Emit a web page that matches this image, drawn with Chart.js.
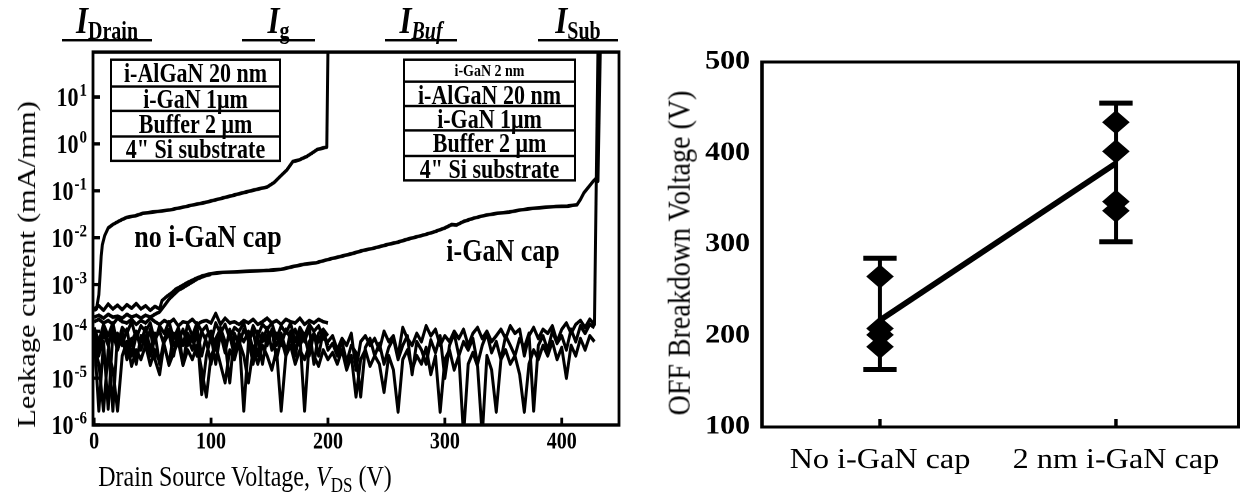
<!DOCTYPE html>
<html lang="en">
<head>
<meta charset="UTF-8">
<title>i-GaN cap: leakage and OFF breakdown</title>
<style>
  body { margin:0; width:1240px; height:496px; overflow:hidden; background:#fff; color:#000; font-family:"Liberation Serif", serif; }
  .panel { position:absolute; top:0; }
  #leftPanel { left:0; width:640px; height:407px; transform:scaleY(1.2187); transform-origin:0 0; }
  #rightPanel { left:640px; width:540px; height:496px; transform:scaleX(1.15); transform-origin:0 0; }
  canvas { position:absolute; left:0; top:0; }

  .tag { position:absolute; top:0; height:30px; padding-top:2px; border-bottom:2.5px solid #000;
         text-align:center; font:bold italic 31px "Liberation Serif"; line-height:30px; white-space:nowrap; }
  .tag span { font-size:20px; position:relative; top:5px; }
  .tag span.up { font-style:normal; }

  .stack { position:absolute; top:47.6px; border:2.5px solid #000; box-sizing:border-box; background:#fff;
           font:bold 22px "Liberation Serif"; text-align:center; }
  .stack div { box-sizing:border-box; height:20.4px; line-height:19px; border-top:2px solid #000; white-space:nowrap; }
  .stack div:first-child { border-top:none; }
  .stack div.thin { height:16px; line-height:15px; font-size:14px; }

  .note { position:absolute; transform:translate(-50%,-50%); font:bold 26px "Liberation Serif"; white-space:nowrap; }
  .axt { position:absolute; transform:translate(-50%,-50%); font:24px "Liberation Serif"; white-space:nowrap; }
  .axt.rot { transform:translate(-50%,-50%) rotate(-90deg); }
  .axt .sub { font-size:17px; position:relative; top:5px; }
</style>
</head>
<body>

<div id="leftPanel" class="panel">
  <canvas id="leakChart" width="640" height="407"></canvas>

  <div class="tag" style="left:62px;width:90px">I<span class="up">Drain</span></div>
  <div class="tag" style="left:242px;width:73px">I<span class="up">g</span></div>
  <div class="tag" style="left:385px;width:72px">I<span>Buf</span></div>
  <div class="tag" style="left:538px;width:80px">I<span class="up">Sub</span></div>

  <div class="stack" style="left:110px;width:171px">
    <div>i-AlGaN 20 nm</div>
    <div>i-GaN 1μm</div>
    <div>Buffer 2 μm</div>
    <div>4" Si substrate</div>
  </div>
  <div class="stack" style="left:403px;width:173px">
    <div class="thin">i-GaN 2 nm</div>
    <div>i-AlGaN 20 nm</div>
    <div>i-GaN 1μm</div>
    <div>Buffer 2 μm</div>
    <div>4" Si substrate</div>
  </div>

  <div class="note" style="left:208px;top:195.3px">no i-GaN cap</div>
  <div class="note" style="left:503px;top:206px">i-GaN cap</div>

  <div class="axt" style="left:245px;top:391.4px">Drain Source Voltage, <i>V</i><span class="sub">DS</span> (V)</div>
  <div class="axt rot" style="left:27px;top:217.4px;font-size:25px">Leakage current (mA/mm)</div>
</div>

<div id="rightPanel" class="panel">
  <canvas id="bvChart" width="540" height="496"></canvas>
  <div class="axt rot" style="left:33.9px;top:253px;font-size:28px">OFF Breakdown Voltage (V)</div>
</div>

<script src="https://cdn.jsdelivr.net/npm/chart.js"></script>
<script>
  // ---- leakage sweep (mA/mm vs V) ----
  const vdsTicks = [0, 100, 200, 300, 400];
  const leakTicks = [1e-6, 1e-5, 1e-4, 1e-3, 1e-2, 1e-1, 1e0, 1e1];

  // drain current, sample without cap (breaks down near 200 V)
  const noCapDrainV = [0,2,4,5,6,7,9,12,16,22, 28,35,42,50,58,65,75,85,95,105,
    115,127,138,148,154,159,165,170,175,182, 187,191,197,199,200];
  const noCapDrainI = [2.8e-4,3e-4,6e-4,1.5e-3,4e-3,7e-3,1.1e-2,1.6e-2,1.9e-2,2.3e-2,
    2.7e-2,2.9e-2,3.3e-2,3.5e-2,3.7e-2,3.9e-2,4.4e-2,5e-2,5.6e-2,6.5e-2,
    7.5e-2,9e-2,1.05e-1,1.2e-1,1.5e-1,2e-1,2.8e-1,4.2e-1,4.5e-1,5.4e-1,
    6.5e-1,7.6e-1,8.3e-1,8.5e-1,100];

  // drain current, sample with 2 nm cap (breaks down near 430 V)
  const capDrainV = [0,4,8,12,16,20,24,28,32,36, 40,44,48,52,56,58,62,66,70,74,
    80,86,92,100,110,120,130,140,150,160, 170,180,190,200,210,220,230,240,250,260,
    270,280,290,300,306,310,316,325,335,345, 355,365,375,385,395,405,413,416,419,423,
    427,430,431,433];
  const capDrainI = [3e-4,3.5e-4,2.8e-4,3.8e-4,3e-4,3.6e-4,2.9e-4,3.7e-4,3.1e-4,3.9e-4,
    3e-4,3.5e-4,2.8e-4,3.4e-4,3e-4,4.5e-4,5.5e-4,6.5e-4,8e-4,9e-4,
    1.1e-3,1.3e-3,1.5e-3,1.7e-3,1.8e-3,1.85e-3,1.9e-3,1.95e-3,2e-3,2.1e-3,
    2.4e-3,2.7e-3,2.9e-3,3.4e-3,3.9e-3,4.5e-3,5.3e-3,6e-3,7e-3,8e-3,
    9.5e-3,1.1e-2,1.3e-2,1.6e-2,1.9e-2,1.85e-2,2.2e-2,2.6e-2,3e-2,3.3e-2,
    3.5e-2,3.9e-2,4.2e-2,4.4e-2,4.6e-2,4.7e-2,5e-2,6.5e-2,9e-2,1.2e-1,
    1.6e-1,1.9e-1,1.6e-1,100];

  const capGateV = [0,4,8,12,16,20,24,28,32,36,40,44,48,52,56,60,64,68,72,76,82,88,94,100];
  const capGateI = [2e-4,2.2e-4,1.9e-4,2.3e-4,2e-4,2.1e-4,1.9e-4,2.3e-4,2e-4,2.2e-4,
    1.9e-4,2.2e-4,2e-4,2.3e-4,2.6e-4,3.5e-4,4.8e-4,6e-4,7.5e-4,8.5e-4,1.05e-3,1.3e-3,1.5e-3,1.65e-3];

  // noisy traces, logged every 4 V
  const sweepStep = 4;
  const capSweepV = Array.from({ length: 108 }, (_, i) => i * sweepStep);   // 0 .. 428 V
  const noCapSweepV = capSweepV.slice(0, 51);                              // 0 .. 200 V

  const noCapGateI = [1.6e-4,1.8e-4,1.5e-4,1.7e-4,1.4e-4,1.9e-4,1.6e-4,1.5e-4,1.8e-4,1.4e-4,
    1.7e-4,1.5e-4,1.9e-4,1.6e-4,1.4e-4,1.7e-4,1.5e-4,1.8e-4,1.3e-4,1.6e-4,
    1.5e-4,1.8e-4,1.4e-4,1.6e-4,1.7e-4,1.5e-4,2.4e-4,1.4e-4,1.9e-4,1.5e-4,
    1.6e-4,1.4e-4,1.7e-4,1.5e-4,1.8e-4,1.4e-4,1.6e-4,1.9e-4,1.5e-4,1.7e-4,
    1.4e-4,1.8e-4,1.6e-4,1.5e-4,1.9e-4,1.4e-4,1.7e-4,1.5e-4,1.8e-4,1.6e-4,
    1.5e-4];
  const noCapBufI = [8e-5,2e-6,6e-5,2.2e-6,9e-5,4e-5,1e-4,3e-5,7e-5,2e-5,
    8e-5,5e-5,1.1e-4,2.5e-5,1.2e-5,6e-5,9e-5,3e-5,1e-4,2e-5,
    7e-5,4e-5,1e-4,4.5e-6,3e-5,8e-5,2e-5,9e-5,3.5e-5,1.1e-4,
    4e-5,8e-5,2e-6,6e-5,1e-4,3e-5,9e-5,5e-5,1.1e-4,2.5e-5,
    7e-5,3e-5,1e-4,4e-5,8e-5,2e-6,6e-5,9e-5,3e-5,1e-4,
    5e-5];
  const noCapSubI = [1e-4,4e-5,1.2e-4,6e-5,2e-6,9e-5,5e-5,1.1e-4,3e-5,8e-5,
    6e-5,1.2e-4,4e-5,9e-5,2e-5,7e-5,1.1e-4,5e-5,8e-5,1.9e-5,
    9e-5,6e-5,1.2e-4,3e-5,8e-5,1e-4,4e-5,1.2e-4,6e-5,8e-6,
    9e-5,5e-5,1.1e-4,7e-5,2e-5,1e-4,6e-5,1.2e-4,4e-5,9e-5,
    5e-5,1.1e-4,7e-5,3e-5,1e-4,6e-5,1.2e-4,2e-5,9e-5,1.1e-4,
    8e-5];
  const capBufI = [1.2e-4,6e-5,1.4e-4,8e-5,1.5e-4,5e-5,1.2e-4,9e-5,1.6e-4,7e-5,
    1.3e-4,1e-4,1.5e-4,6e-5,1.3e-4,9e-5,1.6e-4,7e-5,1.2e-4,5e-5,
    1.4e-4,8e-5,1.5e-4,1e-4,1.3e-4,6e-5,1.5e-4,9e-5,1.4e-4,7e-5,
    1.2e-4,1e-4,1.5e-4,6e-5,1.3e-4,8e-5,1.4e-4,1.1e-4,1.5e-4,7e-5,
    1.3e-4,9e-5,1.5e-4,6e-5,1.2e-4,8e-5,1.4e-4,1e-4,1.3e-4,7e-5,
    6e-5,8e-5,4e-5,7e-5,5e-5,9e-5,1.5e-5,6e-5,8e-5,5e-5,
    7e-5,4e-5,1e-4,6e-5,8e-5,3e-5,1.2e-4,7e-5,5e-5,9e-5,
    6e-5,1.3e-4,8e-5,1.1e-4,5e-5,8e-5,6e-5,1e-4,7e-5,1.1e-4,
    5e-5,9e-5,1.2e-4,7e-5,1e-4,6e-5,8e-5,1.1e-4,7e-5,1.3e-4,
    9e-5,1.1e-4,3e-5,8e-5,1.2e-4,7e-5,1.1e-4,9e-5,1.3e-4,6e-5,
    1.1e-4,1.5e-4,9e-5,1.4e-4,1.7e-4,1.2e-4,1.8e-4,1.4e-4];
  const capBuf2I = [7e-5,3e-5,9e-5,5e-5,1.1e-4,4e-5,8e-5,2.5e-5,6e-5,1e-4,
    4e-5,8e-5,3e-5,7e-5,1e-4,5e-5,2e-5,9e-5,6e-5,1.1e-4,
    5e-5,8e-5,3e-5,1e-4,6e-5,2e-5,7e-5,1.1e-4,5e-5,8e-5,
    3e-5,9e-5,6e-5,1e-4,4e-5,7e-5,2e-5,8e-5,1e-4,5e-5,
    9e-5,4e-5,7e-5,1.1e-4,5e-5,8e-5,3e-5,9e-5,6e-5,1e-4,
    4e-5,5.5e-5,3e-5,6e-5,2.2e-5,5e-5,3.5e-5,4e-6,4.5e-5,7e-5,
    3e-5,5.5e-5,2e-5,4.5e-5,7e-5,2.5e-5,5e-5,8e-5,1.2e-5,6e-5,
    4e-5,2e-5,6.5e-5,3.5e-5,8e-5,1e-5,5e-5,9e-5,3e-5,6e-5,
    4e-5,7e-5,2e-5,5e-5,9e-5,3.5e-5,6e-5,2.5e-5,8e-5,5e-5,
    3e-5,7e-5,4.5e-5,9e-5,2e-6,5e-5,8e-5,4e-5,1e-4,5.5e-5,
    8e-5,4e-5,1.1e-4,6e-5,1.3e-4,9e-5,1.4e-4,1.2e-4];
  const capSubI = [5e-5,2e-5,2e-6,4e-5,1.5e-5,2e-6,3e-5,6e-5,1.8e-5,4e-5,
    2.5e-5,5e-5,1.9e-5,4e-5,2.2e-5,5e-5,1.9e-5,3.5e-5,6e-5,1.9e-5,
    4e-5,2.5e-5,5e-5,1.5e-5,4e-6,3e-5,5e-5,2e-5,8e-6,4e-5,
    2.5e-5,6e-5,3e-5,8e-6,4e-5,2e-5,5e-5,3e-5,1.5e-5,4e-5,
    2e-6,3e-5,5e-5,2e-5,4e-5,2.5e-5,5e-5,3e-5,1.8e-5,4e-5,
    2.5e-5,3.5e-5,2e-5,4e-5,1.5e-5,3e-5,4e-6,2.5e-5,4e-5,1.8e-5,
    3e-5,2e-5,5e-6,3e-5,1.5e-5,1.9e-6,2.5e-5,4e-5,1.5e-5,3e-5,
    2e-5,4.5e-5,1.2e-5,3e-5,1.9e-6,2.5e-5,4e-5,1.5e-5,3e-5,6e-7,
    2e-5,3.5e-5,1.8e-5,6e-7,3e-5,1.5e-5,1.9e-6,2.5e-5,4e-5,2e-5,
    3e-5,1.2e-5,1.9e-6,2e-5,4e-5,2.5e-5,5e-5,3e-5,6e-5,2.5e-5,
    4.5e-5,1e-5,5e-5,3e-5,7e-5,4e-5,8e-5,6e-5];
  const capBreakdownV = 431;   // everything jumps off scale here
  const offScaleI = 100;

  // ---- OFF breakdown voltage per wafer ----
  const groups = ['No i-GaN cap', '2 nm i-GaN cap'];
  const groupPos = [0, 1];
  const bvTicks = [100, 200, 300, 400, 500];
  const noCapVbd = [265, 208, 201, 188];
  const capVbd = [434, 402, 347, 337];
  const meanVbd = [217, 389];
  const vbdLow = [163, 303];
  const vbdHigh = [285, 455];

  const serif = 'Liberation Serif';
  const pts = (xs, ys) => ys.map((y, i) => ({ x: xs[i], y }));
  const trace = data => ({ data, borderColor: '#000', borderWidth: 3, pointRadius: 0,
                           borderJoinStyle: 'round', tension: 0 });

  // box, inward ticks and 10^n labels for the leakage plot
  const leakFrame = {
    id: 'leakFrame',
    afterDraw(chart) {
      const { ctx, chartArea: a, scales: { x, y } } = chart;
      ctx.save();
      ctx.strokeStyle = '#000';
      ctx.lineWidth = 2.8;
      ctx.strokeRect(a.left, a.top, a.right - a.left, a.bottom - a.top);
      ctx.beginPath();
      y.ticks.forEach(t => {
        const py = y.getPixelForValue(t.value);
        ctx.moveTo(a.left, py); ctx.lineTo(a.left + 7, py);
      });
      x.ticks.forEach(t => {
        const px = x.getPixelForValue(t.value);
        ctx.moveTo(px, a.bottom); ctx.lineTo(px, a.bottom - 6);
      });
      ctx.stroke();

      ctx.fillStyle = '#000';
      ctx.textAlign = 'right';
      ctx.textBaseline = 'alphabetic';
      y.ticks.forEach(t => {
        const py = y.getPixelForValue(t.value);
        const exp = String(Math.round(Math.log10(t.value)));
        ctx.font = `bold 15px "${serif}"`;
        const ew = ctx.measureText(exp).width;
        ctx.fillText(exp, 87, py - 1);
        ctx.font = `bold 22px "${serif}"`;
        ctx.fillText('10', 87 - ew - 1, py + 7.5);
      });
      ctx.restore();
    }
  };

  new Chart(document.getElementById('leakChart'), {
    type: 'line',
    data: {
      datasets: [
        trace(pts(noCapDrainV, noCapDrainI)),
        trace(pts(capDrainV, capDrainI)),
        trace(pts(capGateV, capGateI)),
        trace(pts(noCapSweepV, noCapGateI)),
        trace(pts(noCapSweepV, noCapBufI)),
        trace(pts(noCapSweepV, noCapSubI)),
        trace(pts(capSweepV, capBufI).concat([{ x: capBreakdownV, y: offScaleI }])),
        trace(pts(capSweepV, capBuf2I)),
        trace(pts(capSweepV, capSubI))
      ]
    },
    options: {
      responsive: false,
      devicePixelRatio: 2,
      animation: false,
      layout: { padding: { top: 42.7, right: 21, left: 0, bottom: 0 } },
      plugins: { legend: { display: false }, tooltip: { enabled: false } },
      scales: {
        x: {
          type: 'linear', min: -1, max: 449,
          grid: { display: false, drawTicks: false }, border: { display: false },
          afterBuildTicks: s => { s.ticks = vdsTicks.map(v => ({ value: v })); },
          ticks: { autoSkip: false, maxRotation: 0, padding: 2, color: '#000',
                   font: { family: serif, size: 20, weight: 'bold' } },
          afterFit: s => { s.height = 58.3; }
        },
        y: {
          type: 'logarithmic', min: 1e-6, max: 91,
          grid: { display: false, drawTicks: false }, border: { display: false },
          afterBuildTicks: s => { s.ticks = leakTicks.map(v => ({ value: v })); },
          ticks: { display: false },
          afterFit: s => { s.width = 93; }
        }
      }
    },
    plugins: [leakFrame]
  });

  // axes box and inward category ticks for the breakdown plot
  const bvFrame = {
    id: 'bvFrame',
    afterDraw(chart) {
      const { ctx, chartArea: a, scales: { x } } = chart;
      ctx.save();
      ctx.strokeStyle = '#000';
      ctx.lineWidth = 3;
      ctx.strokeRect(a.left, a.top, a.right - a.left, a.bottom - a.top);
      ctx.beginPath();
      groupPos.forEach(v => {
        const px = x.getPixelForValue(v);
        ctx.moveTo(px, a.bottom); ctx.lineTo(px, a.bottom - 8);
      });
      ctx.stroke();
      ctx.restore();
    }
  };

  const diamonds = {
    type: 'scatter',
    data: noCapVbd.map(y => ({ x: groupPos[0], y })).concat(capVbd.map(y => ({ x: groupPos[1], y }))),
    pointStyle: 'rectRot', pointRadius: 12,
    pointBackgroundColor: '#000', pointBorderColor: '#000', pointBorderWidth: 0
  };
  const meanLine = {
    type: 'line',
    data: groupPos.map((x, i) => ({ x, y: meanVbd[i] })),
    borderColor: '#000', borderWidth: 5.5, pointRadius: 0
  };
  const errBars = groupPos.map((x, i) => ({
    type: 'line',
    data: [{ x, y: vbdLow[i] }, { x, y: vbdHigh[i] }],
    borderColor: '#000', borderWidth: 3.5,
    pointStyle: 'line', pointRadius: 14.5, pointBorderColor: '#000', pointBorderWidth: 5
  }));

  new Chart(document.getElementById('bvChart'), {
    type: 'scatter',
    data: { datasets: [diamonds, meanLine, ...errBars] },
    options: {
      responsive: false,
      devicePixelRatio: 2,
      animation: false,
      layout: { padding: { top: 62, right: 12.3, left: 0, bottom: 0 } },
      plugins: { legend: { display: false }, tooltip: { enabled: false } },
      scales: {
        x: {
          type: 'linear', min: -0.5, max: 1.52,
          grid: { display: false, drawTicks: false }, border: { display: false },
          afterBuildTicks: s => { s.ticks = groupPos.map(v => ({ value: v })); },
          ticks: { autoSkip: false, maxRotation: 0, padding: 17, color: '#000',
                   font: { family: serif, size: 28 },
                   callback: (v, i) => groups[i] },
          afterFit: s => { s.height = 69; }
        },
        y: {
          min: 100, max: 500,
          grid: { display: false, drawTicks: false }, border: { display: false },
          afterBuildTicks: s => { s.ticks = bvTicks.map(v => ({ value: v })); },
          ticks: { padding: 10.5, color: '#000', font: { family: serif, size: 26, weight: 'bold' } },
          afterFit: s => { s.width = 106.1; }
        }
      }
    },
    plugins: [bvFrame]
  });
</script>
</body>
</html>
